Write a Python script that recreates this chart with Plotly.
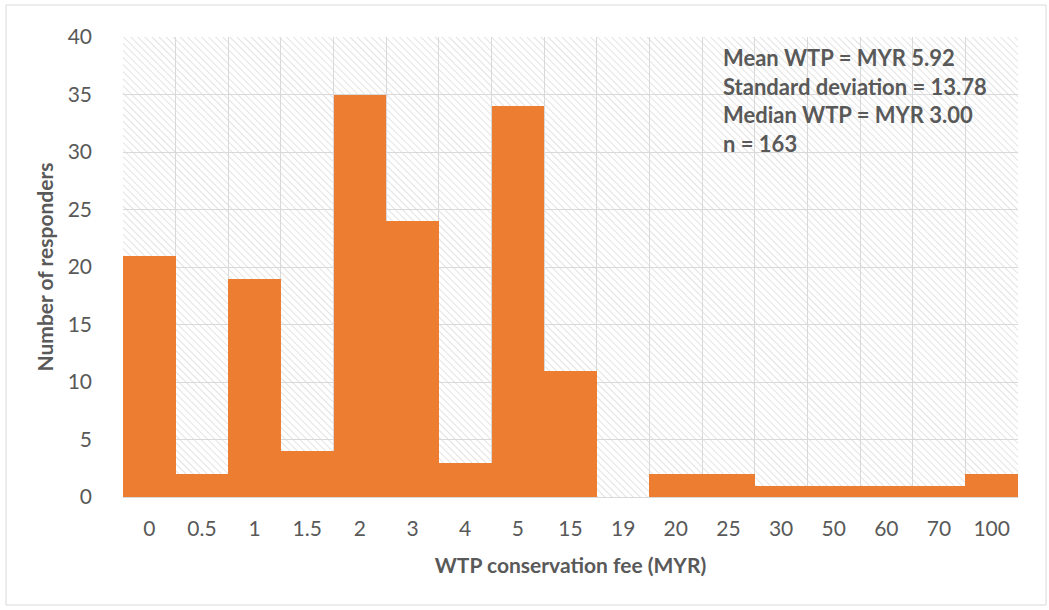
import base64
import plotly.graph_objects as go

# Willingness-to-pay categories (MYR) and number of responders in each
fee_labels = ["0", "0.5", "1", "1.5", "2", "3", "4", "5", "15", "19",
              "20", "25", "30", "50", "60", "70", "100"]
responders = [21, 2, 19, 4, 35, 24, 3, 34, 11, 0, 2, 2, 1, 1, 1, 1, 2]

summary_lines = [
    "Mean WTP = MYR 5.92",
    "Standard deviation = 13.78",
    "Median WTP = MYR 3.00",
    "n = 163",
]

W, H = 1049, 610
M_L, M_R, M_T, M_B = 123, 31, 37, 113
PW, PH = W - M_L - M_R, H - M_T - M_B

TEXT = "#595959"
GRID = "#d9d9d9"
ORANGE = "#ED7D31"
FONT = "Lato, 'Open Sans', sans-serif"
FS = 21

# Light diagonal hatching for the plot background
svg = f"""<svg xmlns="http://www.w3.org/2000/svg" width="{PW}" height="{PH}" viewBox="0 0 {PW} {PH}" preserveAspectRatio="none">
<defs><pattern id="h" width="5" height="5" patternUnits="userSpaceOnUse" patternTransform="rotate(-45)">
<rect width="5" height="5" fill="white"/><line x1="0" y1="0" x2="0" y2="5" stroke="#dcdcdc" stroke-width="1.6"/>
</pattern></defs><rect width="{PW}" height="{PH}" fill="url(#h)"/></svg>"""
hatch_src = "data:image/svg+xml;base64," + base64.b64encode(svg.encode()).decode()

fig = go.Figure(
    go.Bar(
        x=fee_labels,
        y=responders,
        marker=dict(color=ORANGE, line=dict(width=0)),
        width=1.0,
        hoverinfo="x+y",
    )
)

fig.update_layout(
    width=W,
    height=H,
    margin=dict(l=M_L, r=M_R, t=M_T, b=M_B),
    paper_bgcolor="white",
    plot_bgcolor="white",
    showlegend=False,
    bargap=0,
    font=dict(family=FONT, color=TEXT, size=FS),
    images=[dict(
        source=hatch_src, xref="paper", yref="paper", x=0, y=1,
        sizex=1, sizey=1, xanchor="left", yanchor="top",
        sizing="stretch", layer="below",
    )],
    annotations=[dict(
        text="<br>".join(summary_lines),
        xref="paper", yref="paper",
        x=(721 - M_L) / PW, y=1 - (42 - M_T) / PH,
        xanchor="left", yanchor="top", align="left",
        showarrow=False,
        font=dict(family=FONT, size=22, color=TEXT, weight="bold"),
    )],
    shapes=[dict(
        type="rect", xref="paper", yref="paper",
        x0=-(M_L - 6) / PW, x1=1 + (M_R - 3) / PW,
        y0=-(M_B - 5) / PH, y1=1 + (M_T - 5) / PH,
        line=dict(color="#d9d9d9", width=1), fillcolor="rgba(0,0,0,0)",
        layer="below",
    )],
)

fig.update_xaxes(
    type="category",
    tickson="boundaries",
    showgrid=True, gridcolor=GRID, gridwidth=1,
    showline=True, linecolor=GRID, linewidth=1,
    ticks="", ticklabelstandoff=13,
    tickfont=dict(size=FS, color=TEXT),
    title=dict(text="WTP conservation fee (MYR)", standoff=19,
               font=dict(size=FS, color=TEXT, weight="bold")),
    range=[-0.5, len(fee_labels) - 0.5],
)

fig.update_yaxes(
    range=[0, 40], dtick=5,
    showgrid=True, gridcolor=GRID, gridwidth=1,
    zeroline=False, showline=False,
    ticks="", ticklabelstandoff=30,
    tickfont=dict(size=FS, color=TEXT),
    title=dict(text="Number of responders", standoff=8,
               font=dict(size=FS, color=TEXT, weight="bold")),
)

fig.write_html("out.html")
